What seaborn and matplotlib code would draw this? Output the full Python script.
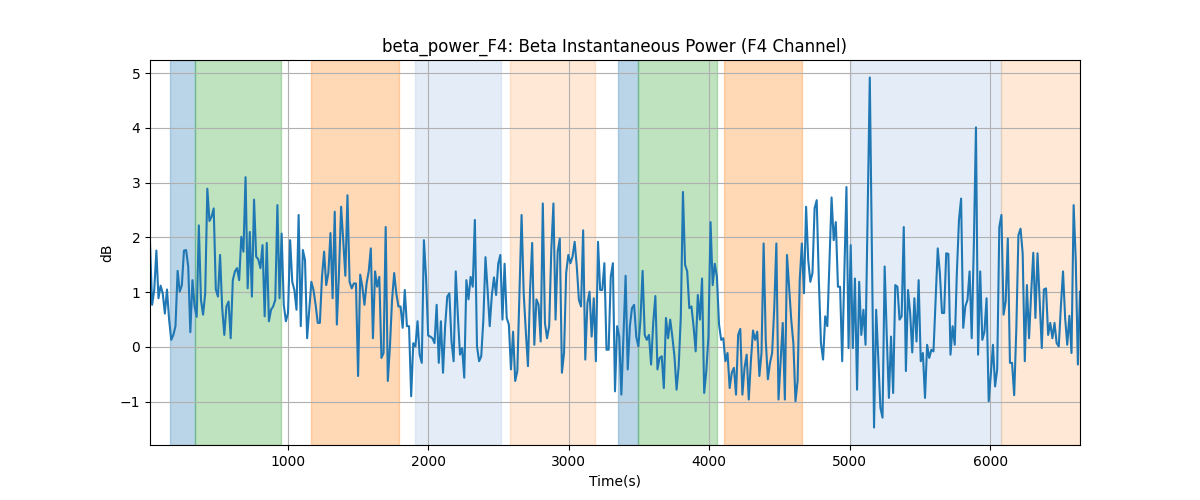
"""Beta instantaneous power on F4 with labelled epoch spans"""
import numpy as np
import matplotlib
matplotlib.use("Agg")
import matplotlib.pyplot as plt
import seaborn as sns

# time range of the recording (s)
T_START = 18
T_END = 6640

# beta power in dB, left to right
beta_db = [
    1.89, 0.77, 1.04, 1.76, 0.89, 1.12, 0.98, 0.61, 1.05, 0.50, 0.13, 0.22, 0.38, 1.39, 1.01, 1.13,
    1.76, 1.77, 1.47, 0.27, 1.22, 0.74, 0.55, 2.22, 0.86, 0.59, 0.98, 2.89, 2.30, 2.38, 2.53, 1.05,
    0.92, 1.68, 0.71, 0.22, 0.74, 0.83, 0.16, 1.22, 1.38, 1.44, 1.22, 2.01, 1.74, 3.10, 1.07, 2.10,
    0.92, 2.69, 1.65, 1.60, 1.44, 1.86, 0.56,
    1.90, 0.47, 0.68, 0.74, 0.86, 2.59, 0.89, 2.07, 0.77, 0.47, 0.62, 1.95, 1.19, 1.04, 0.68, 2.41,
    0.38, 1.77, 1.59, 0.16, 0.68, 1.19, 1.04, 0.77, 0.44, 0.44, 1.28, 1.74, 1.13, 1.35, 2.08, 0.89,
    2.47, 0.41, 1.35, 2.56, 1.95, 1.30, 2.77, 1.19, 1.07, 1.16, 1.16, -0.53, 1.32, 1.10, 0.77, 1.16,
    1.38, 1.80, 0.16, 1.38, 1.10, 1.28,
    -0.20, -0.11, 2.19, -0.62, 0.01, 0.86, 1.35, 0.98, 0.74, 0.74, 0.35, 1.04, 0.38, 0.38, -0.90, 0.07,
    0.01, 0.47, -0.14, -0.29, 1.95, 1.28, 0.21, 0.19, 0.16, 0.07, 0.77, -0.29, 0.47, -0.47, 0.38, 0.92,
    0.98, 0.10, -0.26, 1.38, 0.56, -0.14, -0.02, -0.56, 1.22, 0.87, 1.28, 1.10, 2.32, 0.01, -0.26, -0.17,
    0.50, 1.64, 1.04, 0.38, 0.95, 1.27,
    0.95, 1.52, 1.68, 0.50, 1.52, 0.53, 0.41, -0.41, 0.28, -0.62, -0.44, 0.98, 2.41, 0.98, 0.28, -0.35,
    1.04, 1.90, 0.04, 0.87, 0.77, 0.10, 2.62, 0.44, 0.16, 0.38, 1.77, 2.62, 0.50, 1.74, 1.98, -0.47,
    -0.11, 1.35, 1.68, 1.53, 1.65, 1.92, 1.47, 0.86, 0.74, 2.13, -0.23, 0.80, 1.01, 0.19, 0.89, -0.26,
    1.92, 1.04, 1.04, 1.53, -0.05, -0.05, 1.28,
    1.53, -0.81, 0.38, 0.19, -0.87, 0.19, 1.30, -0.41, 0.38, 0.71, 0.77, 0.19, 0.01, 0.50, 1.39, 0.22,
    0.13, 0.22, -0.32, 0.44, 0.93, -0.41, -0.20, -0.17, -0.75, 0.53, 0.16, 0.50, 0.19, -0.17, -0.78, -0.35,
    0.56, 2.83, 1.50, 1.38, 0.71, 0.74, 0.38, -0.08, 0.95, 0.50, 1.25, -0.84, -0.44, 0.19, 2.28, 1.13,
    1.52, 1.28, 0.41, 0.13, 0.16, -0.26,
    -0.11, -0.75, -0.47, -0.38, -0.87, 0.22, 0.33, -0.87, -0.38, -0.14, -0.96, -0.26, 0.30, 0.13, 0.28, -0.53,
    -0.11, 1.89, 0.13, -0.59, -0.29, -0.11, 0.71, 1.89, -0.96, -0.26, 0.44, -0.96, 1.68, 1.10, 0.50, 0.07,
    -0.99, -0.62, 1.22, 1.89, 0.98, 2.56, 1.59, 1.19, 1.35, 2.53, 2.68, 1.22, 0.07, -0.23, 0.56, 0.38,
    1.53, 2.73, 1.95, 2.28, 1.10, 1.10, -0.26, 1.30,
    2.92, -0.02, 1.86, -0.02, 1.25, -0.78, 1.19, 0.22, 0.68, 0.04, 2.50, 4.92, 1.70, -1.47, 0.68, -0.23,
    -1.11, -1.29, 1.47, 0.19, -0.93, 0.19, -0.84, 1.13, 1.10, 0.50, 0.56, 2.19, -0.44, 1.04, 0.62, -0.10,
    0.89, 0.10, 1.22, -0.26, -0.11, -0.93, 0.04, -0.20, -0.05, -0.08, 0.86, 1.80, 1.35, 0.62, 0.62, 1.71,
    1.70, -0.14, 0.38, 0.04, 1.35, 2.32,
    2.71, 0.35, 0.74, 0.86, 1.38, 0.16, 1.86, 4.01, -0.14, 1.38, 0.13, 0.28, 0.89, -0.99, -0.50, 0.04,
    -0.72, -0.41, 2.19, 2.41, 0.59, 0.83, 1.98, -0.29, -0.29, -0.88, 0.32, 2.04, 2.16, 1.71, -0.26, 1.13,
    0.16, 0.98, 1.72, 0.53, 1.71, 0.86, -0.02, 1.05, 1.07, 0.22, 0.44, 0.16, 0.44, 0.07, 0.01, 0.74,
    1.38, 0.53, 0.04, 0.57, -0.11, 2.59, 1.59, -0.32, 1.01,
]

# shaded epochs (s)
span_starts = [160, 340, 1165, 1905, 2580, 3350, 3495, 4105, 5010, 6080]
span_ends = [340, 950, 1790, 2520, 3190, 3495, 4055, 4660, 6080, 6640]
span_kinds = ["A", "B", "C", "D", "E", "A", "B", "C", "D", "E"]

# colour / opacity per epoch kind
span_style = {
    "A": ("tab:blue", 0.3),
    "B": ("tab:green", 0.3),
    "C": ("tab:orange", 0.3),
    "D": ("#aec7e8", 0.32),
    "E": ("tab:orange", 0.17),
}

time_s = np.linspace(T_START, T_END, len(beta_db))

fig, ax = plt.subplots(figsize=(12, 5), dpi=100)

for start, end, kind in zip(span_starts, span_ends, span_kinds):
    color, alpha = span_style[kind]
    ax.axvspan(start, end, color=color, alpha=alpha, lw=1)

sns.lineplot(x=time_s, y=beta_db, ax=ax, color="tab:blue", linewidth=1.5)

ax.set_xlim(time_s[0], time_s[-1])
ax.grid(True)
ax.set_title("beta_power_F4: Beta Instantaneous Power (F4 Channel)")
ax.set_xlabel("Time(s)")
ax.set_ylabel("dB")

plt.savefig("out.png", dpi=100)
